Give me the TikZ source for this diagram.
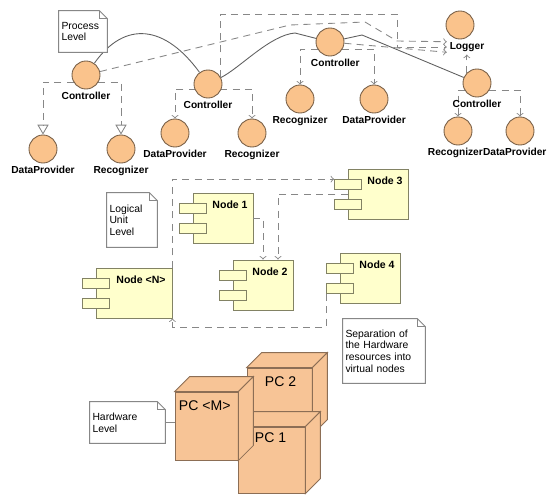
\documentclass[tikz,border=0pt]{standalone}
\usepackage{fontspec}
\setmainfont{Liberation Sans}
\usepackage{xcolor}
\usetikzlibrary{arrows,calc,backgrounds}

\definecolor{procfill}{RGB}{250,195,140}
\definecolor{procline}{RGB}{120,95,70}
\definecolor{compfill}{RGB}{255,255,204}
\definecolor{compline}{RGB}{130,130,100}
\definecolor{pcfill}{RGB}{247,196,150}
\definecolor{pcline}{RGB}{140,110,85}
\definecolor{depline}{RGB}{135,135,135}
\definecolor{linkline}{RGB}{95,95,95}

\tikzset{
proc/.style={circle,draw=procline,fill=procfill,minimum size=0.56cm,inner sep=0pt,line width=0.5pt},
plbl/.style={font=\fontsize{5.8}{6}\selectfont\bfseries,inner sep=1.5pt},
comp/.style={rectangle,draw=compline,fill=compfill,minimum height=1cm,line width=0.5pt},
tab/.style={rectangle,draw=compline,fill=compfill,minimum width=0.54cm,minimum height=0.2cm,inner sep=0pt,line width=0.5pt},
nlbl/.style={anchor=north,xshift=4pt,yshift=-1pt,font=\fontsize{6}{7}\selectfont\bfseries},
note/.style={rectangle,fill=white,align=left,inner xsep=0.05cm,font=\fontsize{5.9}{6.6}\selectfont},
notefold/.style={draw=depline,line width=0.5pt},
pcface/.style={rectangle,draw=pcline,fill=pcfill,line width=0.5pt},
pcside/.style={draw=pcline,fill=pcfill,line width=0.5pt},
pctext/.style={anchor=north west,font=\fontsize{8}{9}\selectfont,inner sep=0pt},
dep/.style={draw=depline,dash pattern=on 4pt off 3pt,line width=0.5pt,->},
link/.style={draw=linkline,line width=0.5pt}
}

\begin{document}
\begin{tikzpicture}[x=0.02cm,y=-0.02cm]
\useasboundingbox (0,0) rectangle (547,497);

% process level
\node[proc,label={[plbl]below:Controller}] (c1) at (86,75) {};
\node[proc,label={[plbl]below:Controller}] (c2) at (208,84) {};
\node[proc,label={[plbl,xshift=3pt]below:Controller}] (c3) at (330,42) {};
\node[proc,label={[plbl]below:Controller}] (c4) at (477,83) {};
\node[proc,label={[plbl,name=lgl,xshift=4pt]below:Logger}] (lg) at (460,25) {};
\node[proc,label={[plbl]below:DataProvider}] (dp1) at (43,149) {};
\node[proc,label={[plbl]below:Recognizer}] (rc1) at (121,149) {};
\node[proc,label={[plbl]below:DataProvider}] (dp2) at (175,133) {};
\node[proc,label={[plbl]below:Recognizer}] (rc2) at (252,133) {};
\node[proc,label={[plbl]below:Recognizer}] (rc3) at (300,99) {};
\node[proc,label={[plbl]below:DataProvider}] (dp3) at (374,99) {};
\node[proc,label={[plbl,xshift=-1.5pt]below:Recognizer}] (rc4) at (458,131) {};
\node[proc,label={[plbl,xshift=-3pt]below:DataProvider}] (dp4) at (520,131) {};

\begin{scope}[on background layer]
\draw[dep,-open triangle 60] ($(c1)+(0,7)$) -| (dp1);
\draw[dep,-open triangle 60] ($(c1)+(0,7)$) -| (rc1);
\draw[dep] ($(c2)+(0,5)$) -| (dp2);
\draw[dep] ($(c2)+(0,5)$) -| (rc2);
\draw[dep] ($(c3)+(0,7)$) -| (rc3);
\draw[dep] ($(c3)+(0,7)$) -| (dp3);
\draw[dep] ($(c4)+(0,7)$) -| (rc4);
\draw[dep] ($(c4)+(0,7)$) -| (dp4);
\end{scope}

\draw[link] (c1) .. controls (125,20) and (165,25) .. (c2);
\draw[link] (c2) .. controls (240,68) and (270,35) .. (295,33) -- (c3);
\draw[link] (c3) -- (362,35) -- (c4);

\draw[dep] (c1) -- (290,25) -- (365,22) -- (397,41) -- ([yshift=3pt]lgl.west);
\draw[dep] ($(c2)+(12,-7)$) |- (397,14) |- (lgl.west);
\draw[dep] (c3) -- ([yshift=-3pt]lgl.west);
\draw[dep] (c4.north west) -- (c4.north west |- lgl.south);

% logical unit level
\node[comp,minimum width=1.2cm,label={[nlbl]north:Node 1}] (n1) at (223,218) {};
\node[comp,minimum width=1.2cm,label={[nlbl]north:Node 2}] (n2) at (263,285) {};
\node[comp,minimum width=1.2cm,label={[nlbl]north:Node 3}] (n3) at (378,194) {};
\node[comp,minimum width=1.2cm,label={[nlbl]north:Node 4}] (n4) at (370,278) {};
\node[comp,minimum width=1.52cm,label={[nlbl]north:Node <N>}] (nN) at (134,293) {};
\foreach \n in {n1,n2,n3,n4,nN}{
  \node[tab] (\n-a) at ($(\n.north west)+(0.5,16)$) {};
  \node[tab] (\n-b) at ($(\n.north west)+(0.5,36)$) {};
}

\draw[dep] (nN.north east) |- (n3-a.north west);
\draw[dep] (n4-b.south west) -- ++(0,33) -| (nN.south east);
\draw[dep] (n3.west) -| ($(n2.north)+(15,0)$);
\draw[dep] (n1.east) -| (n2.north);

% hardware level
\foreach \n/\x/\y/\w/\h/\t/\s/\v in {pc2/279.5/401/1.3/1.32/PC 2/18/9, pc1/271.5/460/1.34/1.32/PC 1/17/6, pcm/206.5/426/1.26/1.36/PC <M>/4/9}{
  \node[pcface,minimum width=\w cm,minimum height=\h cm] (\n) at (\x,\y) {};
  \filldraw[pcside] (\n.north west) -- ++(15,-15) -- ($(\n.north east)+(15,-15)$) -- (\n.north east) -- cycle;
  \filldraw[pcside] (\n.north east) -- ++(15,-15) -- ($(\n.south east)+(15,-15)$) -- (\n.south east) -- cycle;
  \node[pctext] (\n-t) at ($(\n.north west)+(\s,\v)$) {\t};
}

% notes
\node[note,text width=0.86cm,minimum height=0.82cm] (pnote) at (83,31.5) {Process\\Level};
\node[note,text width=0.9cm,minimum height=1.08cm] (lnote) at (132,220) {Logical\\Unit\\Level};
\node[note,text width=1.54cm,minimum height=1.28cm] (snote) at (384,351) {Separation of\\the Hardware\\resources into\\virtual nodes};
\node[note,text width=1.4cm,minimum height=0.82cm] (hnote) at (127.5,422.5) {Hardware\\Level};
\foreach \n in {pnote,lnote,snote,hnote}{
  \draw[notefold] (\n.south west) -- (\n.north west) -- ($(\n.north east)+(-8,0)$) -- ($(\n.north east)+(0,8)$) -- (\n.south east) -- cycle;
  \draw[notefold] ($(\n.north east)+(-8,0)$) |- ($(\n.north east)+(0,8)$);
}
\draw[link,draw=depline] (hnote.east) -- (hnote.east -| pcm.west);
\end{tikzpicture}
\end{document}
